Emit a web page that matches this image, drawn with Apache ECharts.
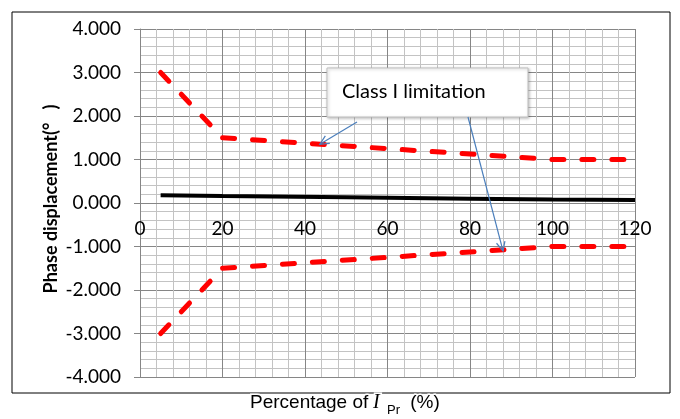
<!DOCTYPE html>
<html><head><meta charset="utf-8">
<script src="https://cdn.jsdelivr.net/npm/echarts@6/dist/echarts.min.js"></script>
<style>html,body{margin:0;padding:0;background:#fff}#c{width:680px;height:419px}</style>
</head><body><div id="c"></div>
<script>
// ---- data ----
const limitX = [5, 20, 100, 120];
const upperLimit = [3.0, 1.5, 1.0, 1.0];
const lowerLimit = [-3.0, -1.5, -1.0, -1.0];
const measX = [5, 20, 50, 80, 100, 120];
const measured = [0.18, 0.16, 0.13, 0.10, 0.08, 0.07];
const xTicks = [0, 20, 40, 60, 80, 100, 120];
const yTicks = [-4, -3, -2, -1, 0, 1, 2, 3, 4];
const yTitle = 'Phase displacement(°   )';
const xTitleMain = 'Percentage of ';
const xTitleSym = 'I';
const xTitleSub = 'Pr';
const xTitleUnit = ' (%)';
const noteText = 'Class I limitation';
const noteTargets = [[43.6, 1.35], [88, -1.1]];

const pairs = (xs, ys) => xs.map((x, i) => [x, ys[i]]);

const chart = echarts.init(document.getElementById('c'), null, {renderer: 'canvas'});
const gridMajor = '#868686', gridMinor = '#c3c3c3';
const tickFont = 'Lato';
const G = {left: 140, right: 45, top: 29, bottom: 42};
const plotH = 419 - G.top - G.bottom;
const yMin = yTicks[0], yMax = yTicks[yTicks.length - 1];
// x axis crosses the y axis at 0
const xAxisOffset = -plotH * (0 - yMin) / (yMax - yMin);

const option = {
  animation: false,
  backgroundColor: '#fff',
  grid: Object.assign({containLabel: false}, G),
  xAxis: {
    type: 'value', min: xTicks[0], max: xTicks[xTicks.length - 1], interval: xTicks[1] - xTicks[0],
    position: 'bottom', offset: xAxisOffset,
    axisLine: {show: true, onZero: false, lineStyle: {color: gridMajor, width: 1}},
    axisTick: {show: false},
    axisLabel: {color: '#000', fontSize: 19, fontFamily: tickFont, margin: 16},
    splitLine: {show: true, lineStyle: {color: gridMajor, width: 1}},
    minorTick: {show: false, splitNumber: 5},
    minorSplitLine: {show: true, lineStyle: {color: gridMinor, width: 1}}
  },
  yAxis: {
    type: 'value', min: yMin, max: yMax, interval: yTicks[1] - yTicks[0],
    axisLine: {show: true, onZero: false, lineStyle: {color: gridMajor, width: 1}},
    axisTick: {show: true, length: 6, lineStyle: {color: gridMajor}},
    axisLabel: {color: '#000', fontSize: 19, fontFamily: tickFont, margin: 19,
      formatter: v => v.toFixed(3)},
    splitLine: {show: true, lineStyle: {color: gridMajor, width: 1}},
    minorTick: {show: false, splitNumber: 5},
    minorSplitLine: {show: true, lineStyle: {color: gridMinor, width: 1}}
  },
  series: [
    {type: 'line', name: 'upper', data: pairs(limitX, upperLimit), symbol: 'none', z: 3,
      lineStyle: {color: '#ff0000', width: 5, type: [12, 18], cap: 'round'}},
    {type: 'line', name: 'lower', data: pairs(limitX, lowerLimit), symbol: 'none', z: 3,
      lineStyle: {color: '#ff0000', width: 5, type: [12, 18], cap: 'round'}},
    {type: 'line', name: 'measured', data: pairs(measX, measured), symbol: 'none', z: 4,
      lineStyle: {color: '#000', width: 4}}
  ]
};
chart.setOption(option);

function arrowEls(s, t) {
  const ang = Math.atan2(t[1] - s[1], t[0] - s[0]);
  const L = 10, a = 0.45;
  const w1 = [t[0] - L * Math.cos(ang - a), t[1] - L * Math.sin(ang - a)];
  const w2 = [t[0] - L * Math.cos(ang + a), t[1] - L * Math.sin(ang + a)];
  const st = {stroke: '#4a7ebb', lineWidth: 1.2, fill: null};
  return [
    {type: 'line', z: 100, shape: {x1: s[0], y1: s[1], x2: t[0], y2: t[1]}, style: st},
    {type: 'polyline', z: 100, shape: {points: [w1, t, w2]}, style: st}
  ];
}

const t1 = chart.convertToPixel({gridIndex: 0}, noteTargets[0]);
const t2 = chart.convertToPixel({gridIndex: 0}, noteTargets[1]);

chart.setOption({
  graphic: [
    {type: 'rect', z: 0, silent: true, shape: {x: 12, y: 12, width: 658, height: 381},
      style: {fill: null, stroke: '#000', lineWidth: 1}},
    {type: 'text', z: 100, x: 51, y: 199, rotation: Math.PI / 2,
      style: {text: yTitle, font: 'bold 18px Lato', fill: '#000', align: 'center', verticalAlign: 'middle'}},
    {type: 'text', z: 100, x: 250, y: 403,
      style: {text: xTitleMain, font: '19px "Liberation Sans"', fill: '#000', stroke: '#fff', lineWidth: 3,
        align: 'left', verticalAlign: 'middle'}},
    {type: 'text', z: 100, x: 373, y: 403,
      style: {text: xTitleSym, font: 'italic 20px "Liberation Serif"', fill: '#000', stroke: '#fff', lineWidth: 3,
        align: 'left', verticalAlign: 'middle'}},
    {type: 'text', z: 100, x: 387, y: 410,
      style: {text: xTitleSub, font: '13px "Liberation Sans"', fill: '#000',
        align: 'left', verticalAlign: 'middle'}},
    {type: 'text', z: 100, x: 405, y: 403,
      style: {text: xTitleUnit, font: '19px "Liberation Sans"', fill: '#000', stroke: '#fff', lineWidth: 3,
        align: 'left', verticalAlign: 'middle'}},
    {type: 'rect', z: 90, shape: {x: 327, y: 68, width: 201, height: 49},
      style: {fill: '#fff', stroke: '#bfbfbf', lineWidth: 1, shadowBlur: 3, shadowOffsetX: 1, shadowOffsetY: 1, shadowColor: 'rgba(0,0,0,0.25)'}},
    {type: 'text', z: 100, x: 342, y: 92,
      style: {text: noteText, font: '20px Lato', fill: '#000', align: 'left', verticalAlign: 'middle'}},
    ...arrowEls([357, 122], t1),
    ...arrowEls([468, 117], t2)
  ]
});
</script>
</body></html>
